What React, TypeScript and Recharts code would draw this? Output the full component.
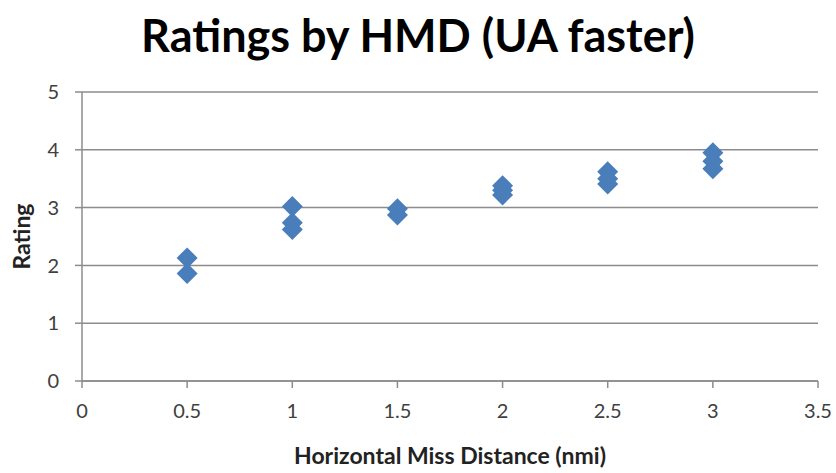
import { ScatterChart, Scatter, XAxis, YAxis, CartesianGrid } from 'recharts'

// horizontal miss distance (nmi) and mean rating, one entry per point
const hmd = [0.5, 0.5, 1, 1, 1, 1.5, 1.5, 2, 2, 2, 2.5, 2.5, 2.5, 3, 3, 3]
const rating = [2.13, 1.86, 3.02, 2.74, 2.62, 2.98, 2.87, 3.38, 3.3, 3.22, 3.62, 3.5, 3.41, 3.95, 3.8, 3.67]

const xTicks = [0, 0.5, 1, 1.5, 2, 2.5, 3, 3.5]
const yTicks = [0, 1, 2, 3, 4, 5]

const BLUE = '#4a7ebb'
const GRID = '#8c8c8c'
const FONT = 'Lato, "Open Sans", sans-serif'

const data = hmd.map((x, i) => ({ x, y: rating[i] }))

function Diamond(props: any) {
  const { cx, cy } = props
  const r = 10.5
  return (
    <polygon
      points={`${cx},${cy - r} ${cx + r},${cy} ${cx},${cy + r} ${cx - r},${cy}`}
      fill={BLUE}
    />
  )
}

export default function App() {
  return (
    <div style={{ position: 'absolute', left: 0, top: 0, width: 836, height: 473, background: '#fff', fontFamily: FONT }}>
      <div
        style={{
          position: 'absolute',
          top: 8,
          left: 0,
          width: 836,
          textAlign: 'center',
          fontSize: 45,
          fontWeight: 700,
          color: '#000',
          whiteSpace: 'nowrap',
        }}
      >
        Ratings by HMD (UA faster)
      </div>
      <ScatterChart width={836} height={473} margin={{ top: 92, right: 18, bottom: 0, left: 0 }}>
        <CartesianGrid horizontal vertical={false} stroke={GRID} strokeWidth={1.5} />
        <XAxis
          type="number"
          dataKey="x"
          domain={[0, 3.5]}
          ticks={xTicks}
          height={92}
          stroke={GRID}
          strokeWidth={1.5}
          tickSize={7}
          tickMargin={16}
          tick={{ fill: '#404040', fontSize: 20, fontFamily: FONT }}
          label={{
            value: 'Horizontal Miss Distance (nmi)',
            position: 'insideBottom',
            offset: 9,
            fill: '#222',
            fontSize: 23,
            fontWeight: 700,
            fontFamily: FONT,
          }}
        />
        <YAxis
          type="number"
          dataKey="y"
          domain={[0, 5]}
          ticks={yTicks}
          width={82}
          stroke={GRID}
          strokeWidth={1.5}
          tickSize={7}
          tickMargin={16}
          tick={{ fill: '#404040', fontSize: 20, fontFamily: FONT }}
          label={{
            value: 'Rating',
            angle: -90,
            position: 'insideLeft',
            offset: 22,
            fill: '#222',
            fontSize: 23,
            fontWeight: 700,
            fontFamily: FONT,
            style: { textAnchor: 'middle' },
          }}
        />
        <Scatter data={data} shape={<Diamond />} isAnimationActive={false} />
      </ScatterChart>
    </div>
  )
}
